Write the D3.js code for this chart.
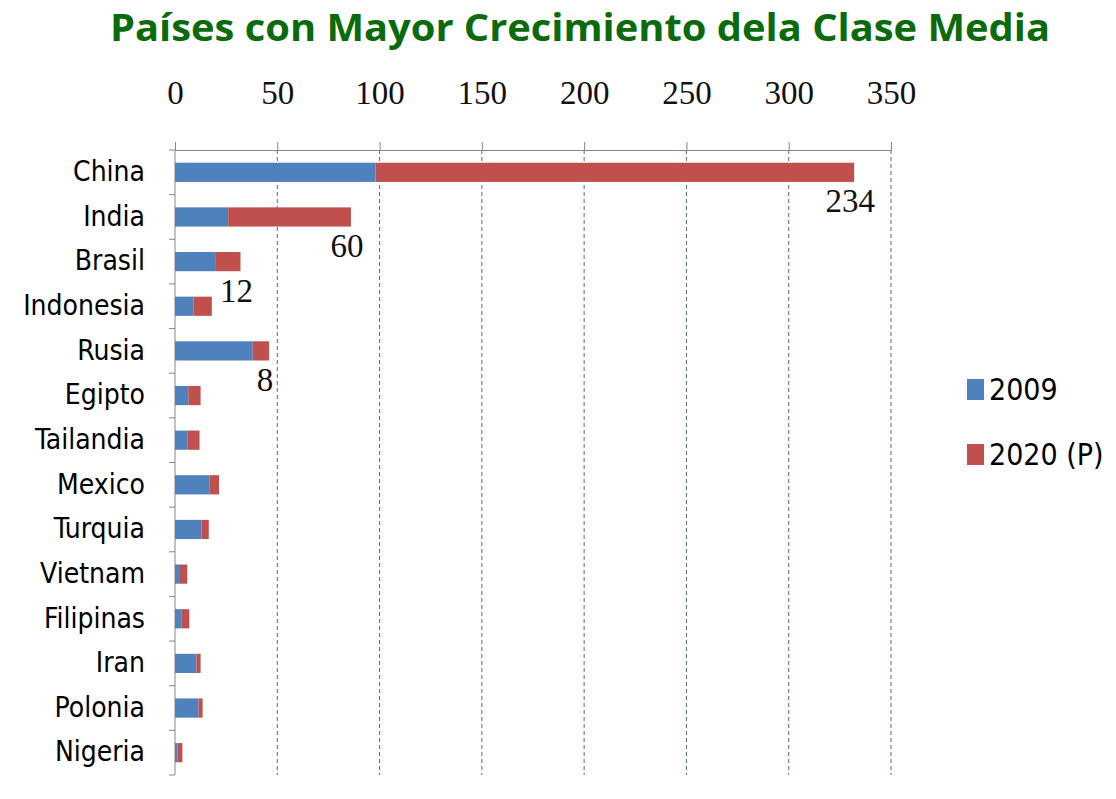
<html>
<head>
<script src="https://cdn.jsdelivr.net/npm/d3@7"></script>
<style>
  body { margin: 0; background: #fff; }
  .grid line { stroke: #51688c; stroke-width: 1; stroke-dasharray: 4,3; }
  .cat text { font-family: "Liberation Sans Narrow", "DejaVu Sans Condensed", "Roboto Condensed", sans-serif; font-size: 28px; fill: #000; }
  .num { font-family: "Liberation Serif", serif; font-size: 33px; fill: #111; }
  .leg { font-family: "Liberation Sans Narrow", "DejaVu Sans Condensed", sans-serif; font-size: 30px; fill: #000; }
</style>
</head>
<body>
<svg width="1116" height="799" id="chart"></svg>
<script>
// data
var countries = ["China","India","Brasil","Indonesia","Rusia","Egipto","Tailandia","Mexico","Turquia","Vietnam","Filipinas","Iran","Polonia","Nigeria"];
var v2009 = [98, 26, 20, 9, 38, 6.5, 6, 17, 13, 2, 3.3, 10.5, 11.5, 1.3];
var v2020 = [234, 60, 12, 9, 8, 6, 6, 4.5, 3.5, 4, 3.7, 2, 2, 2.3];   // increment to 2020
var labelled = ["China","India","Brasil","Rusia"];
var ticks = [0, 50, 100, 150, 200, 250, 300, 350];
var seriesNames = ["2009", "2020 (P)"];
var colors = ["#4f81bd", "#c0504d"];

var svg = d3.select("#chart");

var x = d3.scaleLinear().domain([0, 350]).range([175, 891]);
var y = d3.scaleBand().domain(countries).range([150, 775])
  .paddingInner(0.57).paddingOuter(0.285);
var step = y.step();

// title
svg.append("text")
  .attr("x", 580).attr("y", 41)
  .attr("text-anchor", "middle")
  .attr("textLength", 940).attr("lengthAdjust", "spacingAndGlyphs")
  .style("font-family", "'Open Sans', sans-serif")
  .style("font-weight", "bold")
  .style("font-size", "38px")
  .style("fill", "#0b6a0b")
  .text("Países con Mayor Crecimiento dela Clase Media");

// gridlines
svg.append("g").attr("class", "grid")
  .selectAll("line").data(ticks.slice(1)).enter().append("line")
  .attr("x1", function(d){ return x(d); }).attr("x2", function(d){ return x(d); })
  .attr("y1", 150).attr("y2", 775);

// top axis
var xAxisG = svg.append("g").attr("transform", "translate(0,150)")
  .call(d3.axisTop(x).tickValues(ticks).tickSize(8).tickPadding(50).tickFormat(d3.format("d")));
xAxisG.select(".domain").attr("stroke", "#868686");
xAxisG.selectAll(".tick line").attr("stroke", "#868686");
xAxisG.selectAll(".tick text").attr("class", "num").attr("dy", "0.35em");

// left axis
svg.append("line").attr("x1", 175).attr("x2", 175).attr("y1", 150).attr("y2", 775).attr("stroke", "#868686");
svg.append("g").selectAll("line").data(d3.range(countries.length + 1)).enter().append("line")
  .attr("x1", 169).attr("x2", 175)
  .attr("y1", function(i){ return 150 + i * step; })
  .attr("y2", function(i){ return 150 + i * step; })
  .attr("stroke", "#868686");

svg.append("g").attr("class", "cat").selectAll("text").data(countries).enter().append("text")
  .attr("x", 145).attr("y", function(d){ return y(d) + y.bandwidth() / 2 - 1; })
  .attr("dy", "0.35em").attr("text-anchor", "end")
  .text(function(d){ return d; });

// bars
var bars = svg.append("g");
bars.selectAll("rect.a").data(countries).enter().append("rect")
  .attr("x", x(0))
  .attr("y", function(d){ return y(d); })
  .attr("width", function(d, i){ return x(v2009[i]) - x(0); })
  .attr("height", y.bandwidth())
  .attr("fill", colors[0]);
bars.selectAll("rect.b").data(countries).enter().append("rect")
  .attr("x", function(d, i){ return x(v2009[i]); })
  .attr("y", function(d){ return y(d); })
  .attr("width", function(d, i){ return x(v2009[i] + v2020[i]) - x(v2009[i]); })
  .attr("height", y.bandwidth())
  .attr("fill", colors[1]);

// data labels
svg.append("g").selectAll("text").data(labelled).enter().append("text")
  .attr("class", "num")
  .attr("x", function(d){ var i = countries.indexOf(d); return x(v2009[i] + v2020[i]) - 4; })
  .attr("y", function(d){ return y(d) + y.bandwidth() / 2 + 40; })
  .attr("text-anchor", "middle")
  .text(function(d){ return v2020[countries.indexOf(d)]; });

// legend
var leg = svg.append("g").selectAll("g").data(seriesNames).enter().append("g")
  .attr("transform", function(d, i){ return "translate(967," + (379 + i * 65) + ")"; });
leg.append("rect").attr("width", 17).attr("height", 21)
  .attr("fill", function(d, i){ return colors[i]; });
leg.append("text").attr("class", "leg").attr("x", 22).attr("y", 21)
  .text(function(d){ return d; });
</script>
</body>
</html>
